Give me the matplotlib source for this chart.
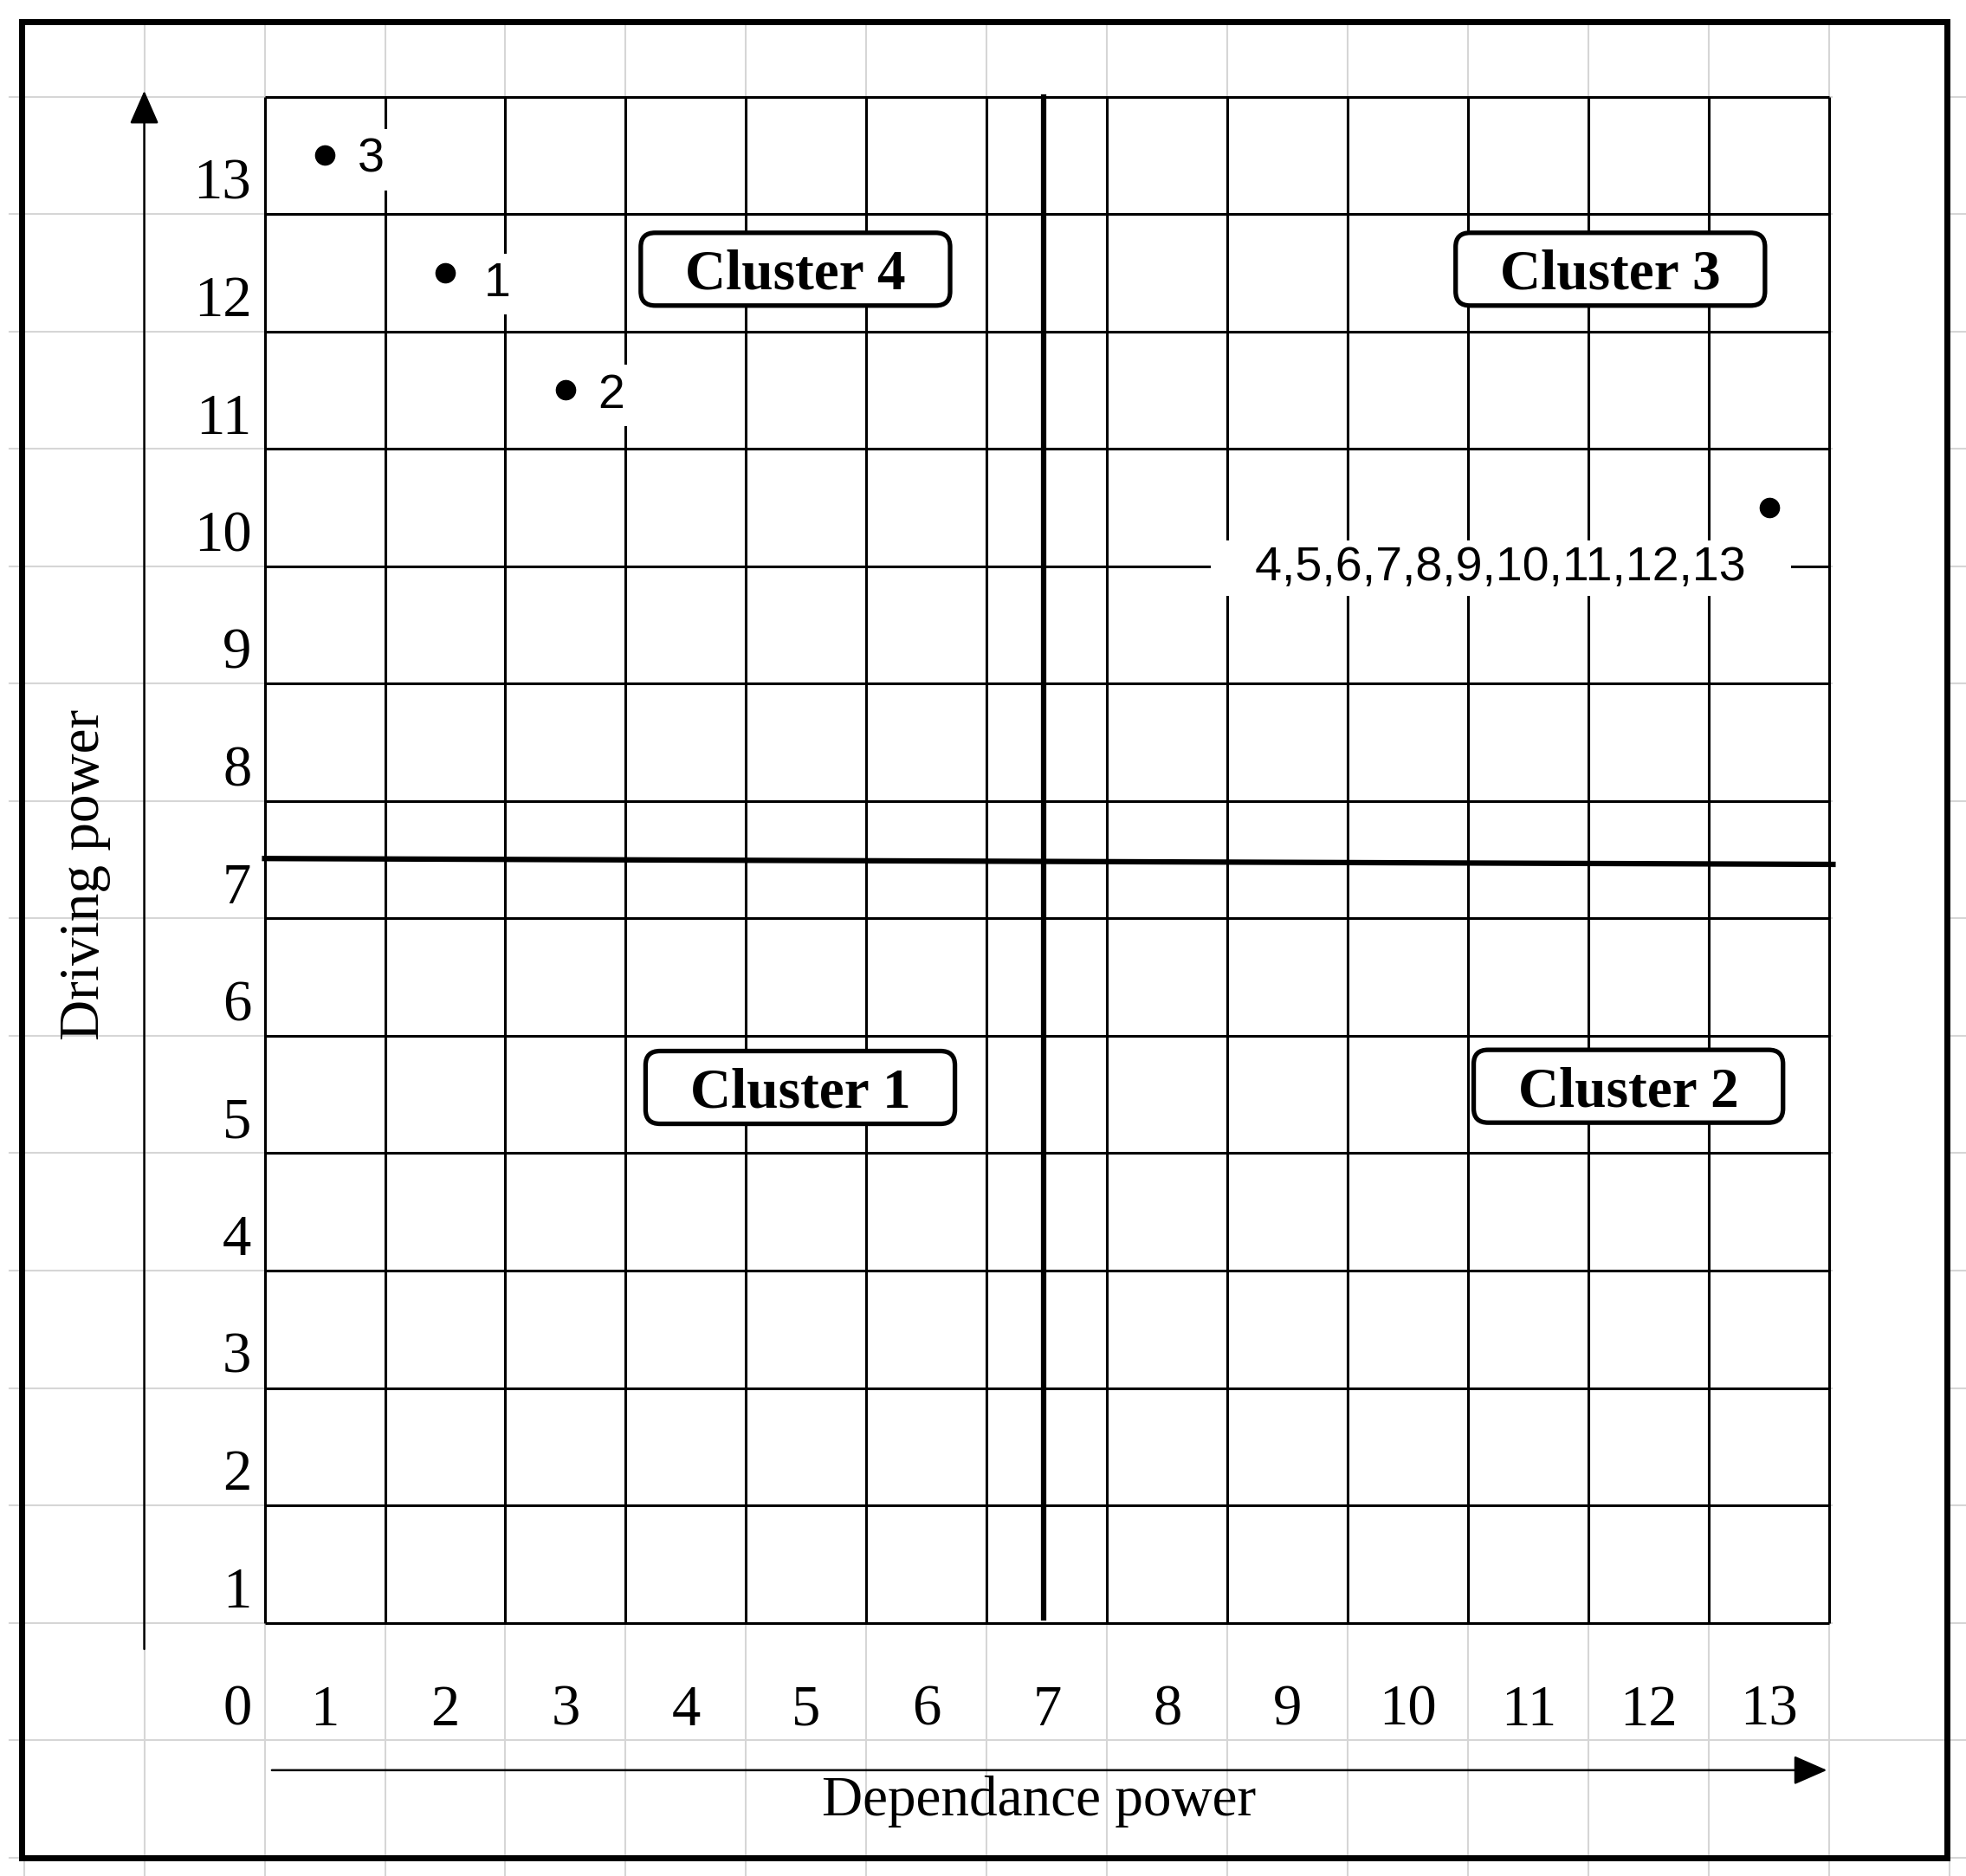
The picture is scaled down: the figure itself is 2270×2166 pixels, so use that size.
import numpy as np
import matplotlib
matplotlib.use('Agg')
import matplotlib.pyplot as plt
from matplotlib.patches import Rectangle, FancyBboxPatch

# MICMAC result: variable ids, dependence power (x), driving power (y)
var_labels = ['1', '2', '3', '4,5,6,7,8,9,10,11,12,13']
dependence = [2, 3, 1, 13]
driving = [12, 11, 13, 10]

ticks = list(range(0, 14))
cluster_names = ['Cluster 1', 'Cluster 2', 'Cluster 3', 'Cluster 4']

# layout: label offsets from their dot, cluster tag centres, quadrant splits
label_dx = [0.43, 0.38, 0.38, -2.23]
label_dy = [-0.20, -0.15, -0.14, -0.62]
cluster_x = [4.95, 11.83, 11.68, 4.91]
cluster_y = [5.06, 5.07, 12.03, 12.03]
split_x = 6.97
split_y = 7.0

SERIF = 'Liberation Serif'
SANS = 'Liberation Sans'
GRAY = '#d6d6d6'

fig = plt.figure(figsize=(22.7, 21.66), dpi=100)
ax = fig.add_axes([0.1346, 0.1350, 0.7959, 0.8135])
ax.set_xlim(0.5, 13.5)
ax.set_ylim(0.5, 13.5)
ax.axis('off')

# light spreadsheet grid in the background
for gx in np.arange(-1.5, 15, 1):
    ax.plot([gx, gx], [-2.6, 14.14], color=GRAY, lw=1.5, zorder=0, clip_on=False)
for gy in np.arange(-1.5, 14, 1):
    ax.plot([-1.62, 15.0], [gy, gy], color=GRAY, lw=1.5, zorder=0, clip_on=False)
ax.add_patch(Rectangle((13.53, -0.45), 0.95, 14.59, facecolor='white',
                       edgecolor='none', zorder=0.5, clip_on=False))

# black matrix grid
edges = np.arange(0.5, 14, 1)
ax.vlines(edges, 0.5, 13.5, color='black', lw=2.2, zorder=2, clip_on=False)
ax.hlines(edges, 0.5, 13.5, color='black', lw=2.2, zorder=2, clip_on=False)

# quadrant dividers
ax.plot([split_x, split_x], [0.54, 13.5], color='black', lw=4.5, zorder=3, clip_on=False)
ax.plot([0.5, 13.53], [split_y + 0.01, split_y - 0.04], color='black', lw=4.5,
        zorder=3, clip_on=False)

# variables
ax.plot(dependence, driving, 'o', ms=16, color='black', zorder=6, clip_on=False)
for i, lab in enumerate(var_labels):
    if len(lab) > 2:
        txt = '   ' + lab + '   '
        pad = 4
    else:
        txt = lab
        pad = 7
    ax.text(dependence[i] + label_dx[i], driving[i] + label_dy[i], txt,
            fontsize=40, family=SANS, ha='center', va='baseline', zorder=4,
            bbox=dict(facecolor='white', edgecolor='none', pad=pad))

# cluster tags
box_w, box_h = 2.57, 0.62
for name, cx, cy in zip(cluster_names, cluster_x, cluster_y):
    ax.add_patch(FancyBboxPatch((cx - box_w / 2, cy - box_h / 2), box_w, box_h,
                                boxstyle='round,pad=0,rounding_size=0.12',
                                facecolor='white', edgecolor='black', lw=3.8,
                                zorder=5, clip_on=False))
    ax.text(cx, cy - 0.17, name, fontsize=47, family=SERIF, fontweight='bold',
            ha='center', va='baseline', zorder=6)

# tick numbers
for v in ticks[1:]:
    ax.text(v, -0.37, str(v), fontsize=48, family=SERIF, ha='center', va='baseline')
for v in ticks:
    ax.text(0.39, v - 0.37, str(v), fontsize=48, family=SERIF, ha='right', va='baseline')

# axis arrows and titles
arrow = dict(arrowstyle='-|>,head_length=0.8,head_width=0.35', mutation_scale=30,
             color='black', lw=1.8, shrinkA=0, shrinkB=0)
ax.annotate('', xy=(-0.5, 13.55), xytext=(-0.5, 0.276), arrowprops=arrow,
            annotation_clip=False)
ax.annotate('', xy=(13.48, -0.756), xytext=(0.56, -0.756), arrowprops=arrow,
            annotation_clip=False)
ax.text(6.93, -1.14, 'Dependance power', fontsize=47, family=SERIF,
        ha='center', va='baseline')
ax.text(-0.99, 6.87, 'Driving power', fontsize=47, family=SERIF, rotation=90,
        ha='center', va='center')

# outer frame
ax.add_patch(Rectangle((-1.52, -1.50), 16.0, 15.64, fill=False, edgecolor='black',
                       lw=5, zorder=10, clip_on=False))

fig.savefig('out.png', dpi=100)
